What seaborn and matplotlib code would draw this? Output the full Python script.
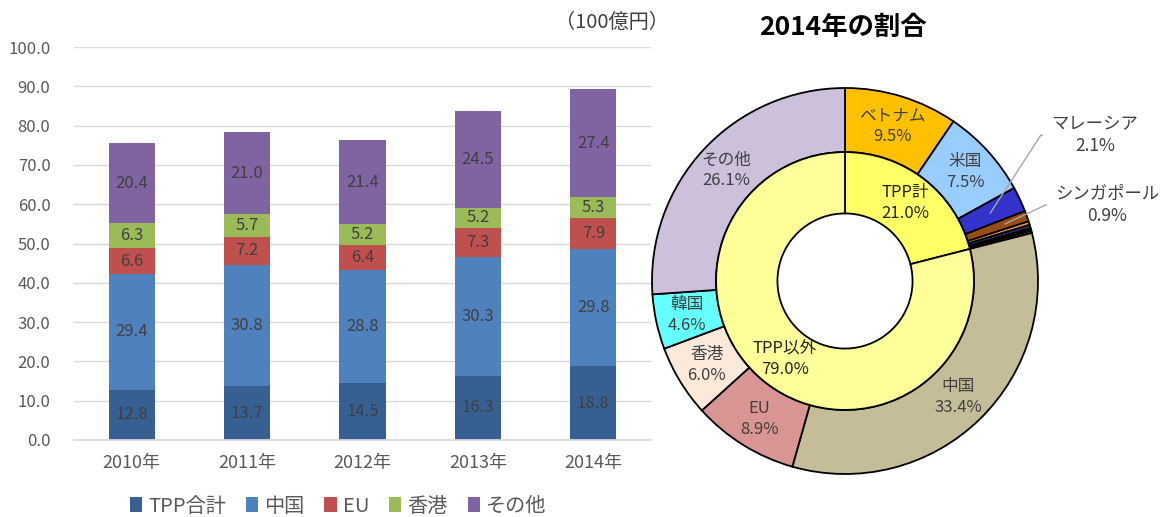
import numpy as np
import pandas as pd
import matplotlib
matplotlib.use("Agg")
import matplotlib.pyplot as plt
import seaborn as sns

# ---- data -----------------------------------------------------------
years = ["2010年", "2011年", "2012年", "2013年", "2014年"]
series_names = ["TPP合計", "中国", "EU", "香港", "その他"]
tpp_total = [12.8, 13.7, 14.5, 16.3, 18.8]
china = [29.4, 30.8, 28.8, 30.3, 29.8]
eu = [6.6, 7.2, 6.4, 7.3, 7.9]
hongkong = [6.3, 5.7, 5.2, 5.2, 5.3]
others = [20.4, 21.0, 21.4, 24.5, 27.4]
bar_colors = ["#376092", "#4F81BD", "#C0504D", "#9BBB59", "#8064A2"]

# 2014 shares (%)
outer_labels = ["ベトナム", "米国", "マレーシア", "シンガポール", "", "", "", "",
                "中国", "EU", "香港", "韓国", "その他"]
outer_values = [9.5, 7.5, 2.1, 0.9, 0.3, 0.3, 0.2, 0.2,
                33.4, 8.9, 6.0, 4.6, 26.1]
outer_colors = ["#FFC000", "#99CCFF", "#3333CC", "#994C14", "#F79646", "#1F3864",
                "#111111", "#7F2A1E", "#C4BD97", "#D99594", "#FDE9D9", "#66FFFF",
                "#CCC0DA"]
inner_labels = ["TPP計", "TPP以外"]
inner_values = [21.0, 79.0]
inner_colors = ["#FFFF66", "#FFFF99"]

sns.set_theme(style="white")
plt.rcParams['font.family'] = ['Noto Sans CJK JP', 'DejaVu Sans']

fig = plt.figure(figsize=(11.68, 5.17), dpi=100)

# ---- stacked bars ---------------------------------------------------
ax = fig.add_axes([74 / 1168, 1 - 440 / 517, 577 / 1168, 393 / 517])
stack = [tpp_total, china, eu, hongkong, others]
bottom = np.zeros(len(years))
for name, vals, col in zip(series_names, stack, bar_colors):
    sns.barplot(x=years, y=vals, bottom=bottom, color=col, saturation=1,
                width=0.4, linewidth=0, errorbar=None, label=name, ax=ax)
    bottom = bottom + np.array(vals)

for cont in ax.containers:
    ax.bar_label(cont, fmt="%.1f", label_type="center", fontsize=12, color="#404040")

ax.set_ylim(0, 100)
ax.set_xlim(-0.5, 4.5)
ax.set_yticks(np.arange(0, 101, 10))
ax.set_yticklabels([f"{v:.1f}" for v in np.arange(0, 101, 10)])
ax.yaxis.grid(True, color="#D9D9D9", linewidth=1)
ax.set_axisbelow(True)
for s in ["left", "right", "top"]:
    ax.spines[s].set_visible(False)
ax.spines["bottom"].set_color("#D9D9D9")
ax.tick_params(axis="y", labelsize=12, labelcolor="#595959", length=0, pad=17)
ax.tick_params(axis="x", labelsize=13, labelcolor="#595959", length=0, pad=10)
ax.set_xlabel("")
ax.set_ylabel("")
ax.legend().remove()

handles, labels = ax.get_legend_handles_labels()
fig.legend(handles, labels, loc="center", bbox_to_anchor=(338 / 1168, 1 - 506 / 517),
           ncol=5, frameon=False, fontsize=14.5, handlelength=0.6, handleheight=0.8,
           columnspacing=1.0, handletextpad=0.3, labelcolor="#595959")

fig.text(612 / 1168, 1 - 22 / 517, "（100億円）", ha="center", va="center",
         fontsize=14.5, color="#404040")

# ---- donut ----------------------------------------------------------
R = 193
ax2 = fig.add_axes([(845 - 200) / 1168, 1 - (281 + 200) / 517, 400 / 1168, 400 / 517])
ax2.pie(outer_values, colors=outer_colors, startangle=90, counterclock=False, radius=1,
        wedgeprops=dict(width=0.332, edgecolor="black", linewidth=1.3))
ax2.pie(inner_values, colors=inner_colors, startangle=90, counterclock=False, radius=0.668,
        wedgeprops=dict(width=0.318, edgecolor="black", linewidth=1.3))
ax2.set_xlim(-200 / R, 200 / R)
ax2.set_ylim(-200 / R, 200 / R)
ax2.set_aspect("equal")
ax2.axis("off")


def mid_angle(values, i):
    cum = np.cumsum([0] + list(values))
    frac = (cum[i] + cum[i + 1]) / 2 / sum(values)
    return np.deg2rad(90 - 360 * frac)


for i, (lab, v) in enumerate(zip(outer_labels, outer_values)):
    if not lab or lab in ("マレーシア", "シンガポール"):
        continue
    a = mid_angle(outer_values, i)
    ax2.text(0.84 * np.cos(a), 0.84 * np.sin(a), f"{lab}\n{v:.1f}%", ha="center",
             va="center", fontsize=12, color="#404040", linespacing=1.3)

for i, (lab, v) in enumerate(zip(inner_labels, inner_values)):
    a = mid_angle(inner_values, i)
    ax2.text(0.51 * np.cos(a), 0.51 * np.sin(a), f"{lab}\n{v:.1f}%", ha="center",
             va="center", fontsize=12, color="#222222", linespacing=1.3)

callouts = [("マレーシア", (1.295, 0.756), 57, 0.83),
            ("シンガポール", (1.36, 0.394), 25, 0.88)]
for lab, txy, angB, r in callouts:
    i = outer_labels.index(lab)
    a = mid_angle(outer_values, i)
    v = outer_values[i]
    ax2.annotate(f"{lab}\n{v:.1f}%", xy=(r * np.cos(a), r * np.sin(a)), xytext=txy,
                 ha="center", va="center", fontsize=12.5, color="#404040",
                 linespacing=1.3, annotation_clip=False,
                 arrowprops=dict(arrowstyle="-", color="#A6A6A6", lw=1,
                                 relpos=(0, 0.5), shrinkA=4, shrinkB=0,
                                 connectionstyle=f"angle,angleA=0,angleB={angB},rad=0"))

fig.text(843 / 1168, 1 - 27 / 517, "2014年の割合", ha="center", va="center",
         fontsize=19, fontweight="bold", color="black")

fig.savefig("out.png", dpi=100)
